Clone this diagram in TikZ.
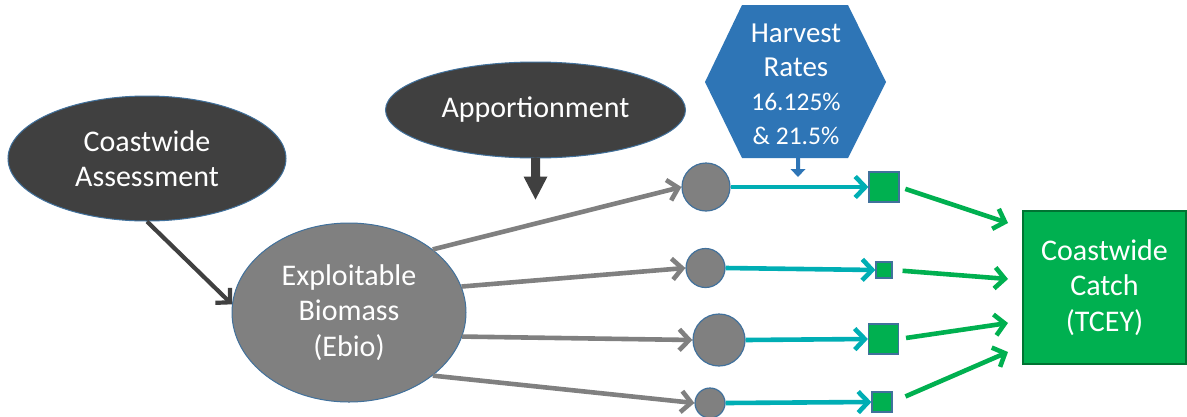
\documentclass[tikz,border=0pt]{standalone}
\usepackage{fontspec}
\setmainfont{Carlito}
\usetikzlibrary{shapes.geometric,arrows.meta,calc}
\definecolor{darkfill}{RGB}{64,64,64}
\definecolor{midgray}{RGB}{128,128,128}
\definecolor{edgeblue}{RGB}{65,113,156}
\definecolor{hexblue}{RGB}{46,117,182}
\definecolor{tealc}{RGB}{0,174,180}
\definecolor{greenc}{RGB}{0,176,80}
\definecolor{boxedge}{RGB}{0,115,50}
\begin{document}
\begin{tikzpicture}[x=1pt,y=-1pt,
  txt/.style={text=white,align=center,font=\fontsize{30}{35.5}\selectfont},
  darkell/.style={ellipse,fill=darkfill,draw=edgeblue,line width=1pt,inner sep=0pt,txt},
  grayell/.style={ellipse,fill=midgray,draw=edgeblue,line width=1pt,inner sep=0pt,txt},
  gcirc/.style={circle,fill=midgray,draw=edgeblue,line width=1.2pt,inner sep=0pt},
  gsq/.style={rectangle,fill=greenc,draw=edgeblue,line width=1.2pt,inner sep=0pt},
  barb/.style={-{Straight Barb[length=10pt,width=21pt]}},
  grayarr/.style={barb,draw=midgray,line width=4.6pt},
  tealarr/.style={barb,draw=tealc,line width=4.6pt},
  greenarr/.style={barb,draw=greenc,line width=4.6pt},
  darkarr/.style={barb,draw=darkfill,line width=4.2pt}
]
\useasboundingbox (0,0) rectangle (1187,416);
\fill[white] (0,0) rectangle (1187,416);

% main ellipses
\node[darkell,minimum width=278pt,minimum height=125pt] (ca) at (147,158.5) {Coastwide\\Assessment};
\node[darkell,minimum width=300pt,minimum height=96pt] (ap) at (535.5,110) {Apportionment};
\node[grayell,minimum width=234pt,minimum height=179pt] (eb) at (349,312.5) {Exploitable\\Biomass\\(Ebio)};

% harvest rates hexagon
\fill[hexblue] (742,5) -- (848,5) -- (886,82) -- (848,158) -- (742,158) -- (705,82) -- cycle;
\node[text=white,align=center,font=\fontsize{29}{34}\selectfont] (hr) at (796,84)
  {Harvest\\Rates\\{\fontsize{25.5}{32}\selectfont 16.125\%}\\{\fontsize{25.5}{32}\selectfont \& 21.5\%}};
\coordinate (hb) at (798,157);
\fill[hexblue] ($(hb)+(-2,0)$) -- ($(hb)+(2,0)$) -- ($(hb)+(2,12)$) -- ($(hb)+(7.5,12)$)
  -- ($(hb)+(0,20)$) -- ($(hb)+(-7.5,12)$) -- ($(hb)+(-2,12)$) -- cycle;

% apportionment block arrow
\coordinate (as) at ($(ap.south)+(0,-1)$);
\fill[darkfill] ($(as)+(-4.5,0)$) -- ($(as)+(4.5,0)$) -- ($(as)+(4.5,19)$) -- ($(as)+(12,19)$)
  -- ($(as)+(0,42)$) -- ($(as)+(-12,19)$) -- ($(as)+(-4.5,19)$) -- cycle;

% region circles
\node[gcirc,minimum size=48pt] (c1) at (706,187) {};
\node[gcirc,minimum size=39pt] (c2) at (705.5,268) {};
\node[gcirc,minimum size=52pt] (c3) at (719,340) {};
\node[gcirc,minimum size=30pt] (c4) at (710,403) {};

% catch squares
\node[gsq,minimum size=30pt] (s1) at (884,187) {};
\node[gsq,minimum size=16pt] (s2) at (884,270) {};
\node[gsq,minimum size=30pt] (s3) at (883.5,339) {};
\node[gsq,minimum size=20pt] (s4) at (882,402) {};

% coastwide catch box
\node[rectangle,fill=greenc,draw=boxedge,line width=1.5pt,minimum width=163pt,minimum height=153pt,txt] (box) at (1104.5,287.5) {Coastwide\\Catch\\(TCEY)};

% connectors
\draw[darkarr] (ca.south) -- (eb.176);
\draw[grayarr] (eb.37) -- (c1.west);
\draw[grayarr] (eb.13) -- (c2.west);
\draw[grayarr] (eb.-12.5) -- (c3.west);
\draw[grayarr] (eb.-37.5) -- (c4.west);

\draw[tealarr] (c1.east) -- (s1.west);
\draw[tealarr] (c2.east) -- (s2.west);
\draw[tealarr] (c3.east) -- (s3.west);
\draw[tealarr] (c4.east) -- (s4.west);

\coordinate (g1) at (1008,223);
\coordinate (g2) at (1008,279);
\coordinate (g3) at (1008,323);
\coordinate (g4) at (1008,352);
\draw[greenarr,shorten <=6pt] (s1.east) -- (g1);
\draw[greenarr,shorten <=10pt] (s2.east) -- (g2);
\draw[greenarr,shorten <=7pt] (s3.east) -- (g3);
\draw[greenarr,shorten <=14pt] (s4.east) -- (g4);
\end{tikzpicture}
\end{document}
